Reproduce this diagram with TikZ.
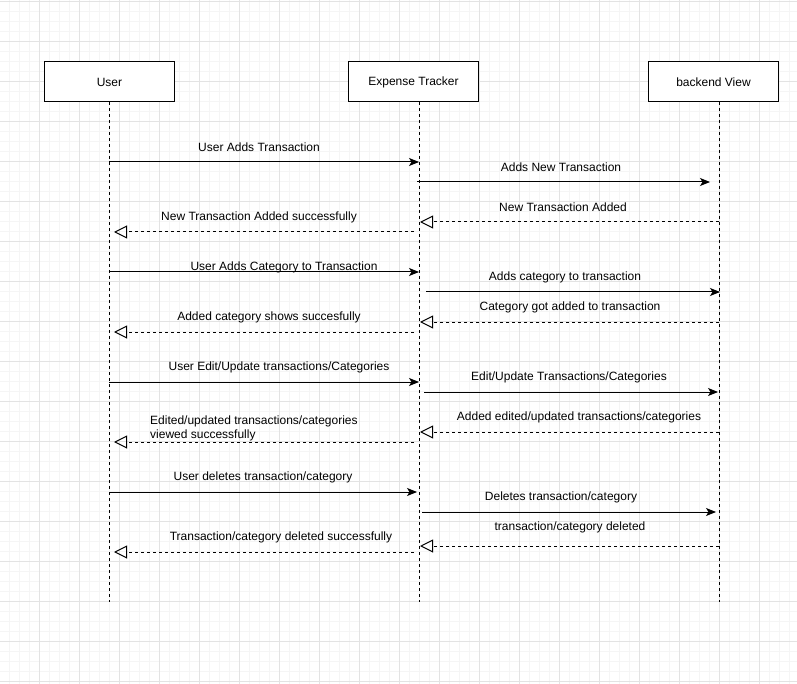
\documentclass[tikz,border=0pt]{standalone}
\usepackage{fontspec}
\setmainfont{Liberation Sans}
\usetikzlibrary{arrows.meta}
\definecolor{gridminor}{HTML}{F5F5F5}
\definecolor{gridmajor}{HTML}{E3E3E3}
\begin{document}
\begin{tikzpicture}[x=1pt,y=-1pt,
  font=\fontsize{12}{14}\selectfont,
  actor/.style={draw, line width=1pt, minimum width=130pt, minimum height=40pt,
    inner sep=0pt, fill=white},
  lifeline/.style={line width=1pt, dash pattern=on 3pt off 3pt},
  call/.style={line width=1pt, -{Stealth[length=10pt,width=8pt,inset=2.5pt]}},
  reply/.style={line width=1pt, dash pattern=on 3pt off 3pt,
    -{Triangle[open,length=13pt,width=13pt,line width=1pt]}},
  lbl/.style={inner sep=0pt, anchor=center}]

\useasboundingbox (0,0) rectangle (797,684);
\fill[white] (0,0) rectangle (797,684);

% background grid: fine lines every 10, stronger lines every 40
\foreach \x in {9.5,19.5,...,797} \draw[gridminor, line width=1pt] (\x,0) -- (\x,684);
\foreach \y in {1.7,11.7,...,684} \draw[gridminor, line width=1pt] (0,\y) -- (797,\y);
\foreach \x in {39.5,79.5,...,797} \draw[gridmajor, line width=1pt] (\x,0) -- (\x,684);
\foreach \y in {1.7,41.7,...,684} \draw[gridmajor, line width=1pt] (0,\y) -- (797,\y);

% participants
\node[actor] (user) at (109.5,82) {User};
\node[actor] (et)   at (413.5,82) {Expense Tracker};
\node[actor] (bv)   at (713.5,82) {backend View};

% lifelines
\coordinate (userTop) at (109,102);
\coordinate (userEnd) at (109,602);
\coordinate (etTop)   at (419,102);
\coordinate (etEnd)   at (419,602);
\coordinate (bvTop)   at (719,102);
\coordinate (bvEnd)   at (719,602);
\draw[lifeline] (userTop) -- (userEnd);
\draw[lifeline] (etTop) -- (etEnd);
\draw[lifeline] (bvTop) -- (bvEnd);

% messages: id / start x / end x / y / style
\foreach \i/\xa/\xb/\y/\kind in {
  1/109/419/162/call, 2/417/710/182/call, 3/719/420/222/reply, 4/414/114/232/reply,
  5/109/419/272/call, 6/426/720/292/call, 7/719/420/322/reply, 8/414/114/332/reply,
  9/109/419/382/call, 10/424/718/392/call, 11/719/420/432/reply, 12/414/114/442/reply,
  13/109/417/492/call, 14/422/716/512/call, 15/719/420/546/reply, 16/414/114/552/reply}{
  \coordinate (m\i from) at (\xa,\y);
  \coordinate (m\i to) at (\xb,\y);
  \draw[\kind] (m\i from) -- (m\i to);
}

% message labels
\node[lbl] (l1)  at (259,147.5) {User Adds Transaction};
\node[lbl] (l2)  at (561,167.5) {Adds New Transaction};
\node[lbl] (l3)  at (563,207.5) {New Transaction Added};
\node[lbl] (l4)  at (259,217.5) {New Transaction Added successfully};
\node[lbl] (l5)  at (284,267.5) {User Adds Category to Transaction};
\node[lbl] (l6)  at (565,277.5) {Adds category to transaction};
\node[lbl] (l7)  at (570,307.5) {Category got added to transaction};
\node[lbl] (l8)  at (269,317.5) {Added category shows succesfully};
\node[lbl] (l9)  at (279,367.5) {User Edit/Update transactions/Categories};
\node[lbl] (l10) at (569,377.5) {Edit/Update Transactions/Categories};
\node[lbl] (l11) at (579,417.5) {Added edited/updated transactions/categories};
\node[lbl, anchor=north west, align=left, inner sep=0pt,
  font=\fontsize{12}{14.5}\selectfont] (l12) at (150,415.5)
  {Edited/updated transactions/categories\\viewed successfully};
\node[lbl] (l13) at (263,477.5) {User deletes transaction/category};
\node[lbl] (l14) at (561,497.5) {Deletes transaction/category};
\node[lbl] (l15) at (570,527.5) {transaction/category deleted};
\node[lbl] (l16) at (281,537.5) {Transaction/category deleted successfully};
\end{tikzpicture}
\end{document}
